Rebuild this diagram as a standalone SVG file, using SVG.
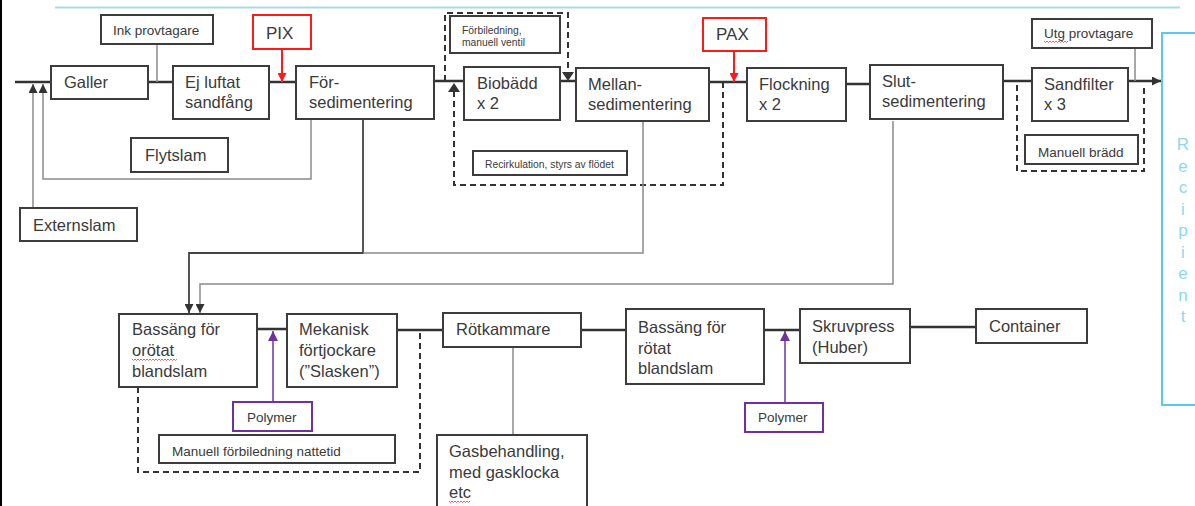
<svg xmlns="http://www.w3.org/2000/svg" width="1195" height="506" viewBox="0 0 1195 506">
<style>
.box{fill:#fff;stroke:#3c3c3c;stroke-width:2}
.red{fill:#fff;stroke:#ff1a1a;stroke-width:2}
.pur{fill:#fff;stroke:#7030a0;stroke-width:2}
.t{font-family:"Liberation Sans",Arial,sans-serif;font-size:16.5px;fill:#3a3a3a}
.s{font-family:"Liberation Sans",Arial,sans-serif;font-size:13.5px;fill:#3a3a3a}
.xs{font-family:"Liberation Sans",Arial,sans-serif;font-size:10.3px;fill:#3a3a3a}
.main{fill:none;stroke:#333;stroke-width:2.6}
.thin{fill:none;stroke:#8a8a8a;stroke-width:1.5}
.dark{fill:none;stroke:#444;stroke-width:1.8}
.dash{fill:none;stroke:#333;stroke-width:2;stroke-dasharray:6 4}
.rl{fill:none;stroke:#ff1a1a;stroke-width:2}
.pl{fill:none;stroke:#7030a0;stroke-width:1.5}
.rec{font-family:"Liberation Sans",Arial,sans-serif;font-size:17px;fill:#8cd8f2;text-anchor:middle}
.sq{fill:none;stroke:#e04040;stroke-width:0.8}
</style>
<defs>
<marker id="ab" viewBox="0 0 10 10" refX="10" refY="5" markerUnits="userSpaceOnUse" markerWidth="11" markerHeight="9" orient="auto"><path d="M0,0 L10,5 L0,10 z" fill="#333" stroke="none"/></marker>
<marker id="ar" viewBox="0 0 10 10" refX="10" refY="5" markerUnits="userSpaceOnUse" markerWidth="10" markerHeight="9" orient="auto"><path d="M0,0 L10,5 L0,10 z" fill="#ff1a1a" stroke="none"/></marker>
<marker id="ap" viewBox="0 0 10 10" refX="10" refY="5" markerUnits="userSpaceOnUse" markerWidth="11" markerHeight="10" orient="auto"><path d="M0,0 L10,5 L0,10 z" fill="#7030a0" stroke="none"/></marker>
</defs>
<rect x="0" y="0" width="1195" height="506" fill="#fff"/>
<rect x="0" y="0" width="2" height="506" fill="#000"/>
<line x1="55" y1="7.5" x2="1180" y2="7.5" stroke="#a8dbe8" stroke-width="2"/>

<g id="connectors">
<path class="main" d="M15,82 H51 M148,82 H173 M269,82 H296 M434,81 H464 M560,81 H576 M709,82 H747 M846,84 H870 M1003,81 H1032"/>
<path class="main" d="M1128,81 H1161" marker-end="url(#ab)"/>
<path class="thin" d="M157,44 V82 M1135,48 V81"/>
<path class="thin" d="M33,208 V84" marker-end="url(#ab)"/>
<path class="thin" d="M311,119 V179 H43 V84" marker-end="url(#ab)"/>
<path class="rl" d="M282,49 V82" marker-end="url(#ar)"/>
<path class="rl" d="M734,51 V82" marker-end="url(#ar)"/>
<path class="dash" d="M445,81 V13 H568 V73"/>
<path fill="#333" d="M562,72 L574,72 L568,81 z"/>
<path class="dash" d="M454,91 V185 H723 V82"/>
<path fill="#333" d="M448,92 L460,92 L454,83 z"/>
<path class="dash" d="M1017,85 V171 H1144 V85"/>
<path class="dark" d="M363,119 V253 H189 V313" marker-end="url(#ab)"/>
<path class="thin" d="M643,121 V253 H363"/>
<path class="thin" d="M893,121 V284 H200 V313" marker-end="url(#ab)"/>
<path class="main" d="M257,329 H287 M397,330 H443 M581,330 H626 M764,330 H800 M910,327 H976"/>
<path class="pl" d="M273,402 V331" marker-end="url(#ap)"/>
<path class="pl" d="M785,403 V331" marker-end="url(#ap)"/>
<path class="dash" d="M138,387 V472 H420 V330"/>
<path class="thin" d="M513,347 V435"/>
</g>

<g id="recipient">
<rect x="1162" y="33" width="45" height="372" fill="none" stroke="#5bc8ec" stroke-width="2"/>
<text class="rec" x="1183" y="150">R</text>
<text class="rec" x="1183" y="171.5">e</text>
<text class="rec" x="1183" y="193">c</text>
<text class="rec" x="1183" y="214.5">i</text>
<text class="rec" x="1183" y="236">p</text>
<text class="rec" x="1183" y="257.5">i</text>
<text class="rec" x="1183" y="279">e</text>
<text class="rec" x="1183" y="300.5">n</text>
<text class="rec" x="1183" y="322">t</text>
</g>

<g id="ink"><rect class="box" x="101" y="15" width="112" height="29"/><text class="s" x="113" y="35">Ink provtagare</text></g>
<g id="galler"><rect class="box" x="51" y="66" width="97" height="33"/><text class="t" x="64" y="88">Galler</text></g>
<g id="sandfang"><rect class="box" x="173" y="66" width="96" height="53"/><text class="t" x="185" y="88">Ej luftat</text><text class="t" x="185" y="108">sandfång</text></g>
<g id="pix"><rect class="red" x="253" y="15" width="58" height="34"/><text class="t" x="266" y="39" style="font-size:17px">PIX</text></g>
<g id="forsed"><rect class="box" x="296" y="66" width="138" height="53"/><text class="t" x="309" y="88">För-</text><text class="t" x="309" y="108">sedimentering</text></g>
<g id="flytslam"><rect class="box" x="131" y="138" width="97" height="34"/><text class="t" x="145" y="161">Flytslam</text></g>
<g id="externslam"><rect class="box" x="20" y="208" width="117" height="33"/><text class="t" x="33" y="231">Externslam</text></g>
<g id="forbiledning"><rect class="box" x="450" y="16" width="110" height="37"/><text class="xs" x="462" y="34">Förbiledning,</text><text class="xs" x="462" y="46">manuell ventil</text></g>
<g id="biobadd"><rect class="box" x="464" y="67" width="96" height="53"/><text class="t" x="477" y="89">Biobädd</text><text class="t" x="477" y="109">x 2</text></g>
<g id="mellansed"><rect class="box" x="576" y="68" width="133" height="53"/><text class="t" x="588" y="90">Mellan-</text><text class="t" x="588" y="110">sedimentering</text></g>
<g id="recirk"><rect class="box" x="473" y="151" width="154" height="24"/><text class="xs" x="485" y="168">Recirkulation, styrs av flödet</text></g>
<g id="pax"><rect class="red" x="703" y="18" width="63" height="33"/><text class="t" x="716" y="40" style="font-size:17px">PAX</text></g>
<g id="flockning"><rect class="box" x="747" y="68" width="99" height="53"/><text class="t" x="759" y="90">Flockning</text><text class="t" x="759" y="110">x 2</text></g>
<g id="slutsed"><rect class="box" x="870" y="65" width="133" height="54"/><text class="t" x="882" y="87">Slut-</text><text class="t" x="882" y="107">sedimentering</text></g>
<g id="utg"><rect class="box" x="1032" y="19" width="120" height="29"/><text class="s" x="1044" y="38">Utg provtagare</text><path class="sq" d="M1044,41 l1.5,1.5 l1.5,-1.5 l1.5,1.5 l1.5,-1.5 l1.5,1.5 l1.5,-1.5 l1.5,1.5 l1.5,-1.5 l1.5,1.5 l1.5,-1.5 l1.5,1.5 l1.5,-1.5 l1.5,1.5 l1.5,-1.5 l1.5,1.5 l1.5,-1.5"/></g>
<g id="sandfilter"><rect class="box" x="1032" y="68" width="96" height="53"/><text class="t" x="1044" y="90">Sandfilter</text><text class="t" x="1044" y="110">x 3</text></g>
<g id="bradd"><rect class="box" x="1025" y="135" width="113" height="29"/><text class="s" x="1038" y="157">Manuell brädd</text></g>

<g id="bassang1"><rect class="box" x="119" y="314" width="138" height="73"/><text class="t" x="132" y="335">Bassäng för</text><text class="t" x="132" y="356">orötat</text><path class="sq" d="M132,359 l1.5,1.5 l1.5,-1.5 l1.5,1.5 l1.5,-1.5 l1.5,1.5 l1.5,-1.5 l1.5,1.5 l1.5,-1.5 l1.5,1.5 l1.5,-1.5 l1.5,1.5 l1.5,-1.5 l1.5,1.5 l1.5,-1.5 l1.5,1.5 l1.5,-1.5 l1.5,1.5 l1.5,-1.5 l1.5,1.5 l1.5,-1.5 l1.5,1.5 l1.5,-1.5 l1.5,1.5 l1.5,-1.5 l1.5,1.5 l1.5,-1.5 l1.5,1.5 l1.5,-1.5 l1.5,1.5 l1.5,-1.5"/><text class="t" x="132" y="377">blandslam</text></g>
<g id="mekanisk"><rect class="box" x="287" y="314" width="110" height="73"/><text class="t" x="299" y="335">Mekanisk</text><text class="t" x="299" y="356">förtjockare</text><text class="t" x="299" y="377">(”Slasken”)</text></g>
<g id="polymer1"><rect class="pur" x="233" y="402" width="79" height="29"/><text class="s" x="247" y="422">Polymer</text></g>
<g id="manforb"><rect class="box" x="159" y="435" width="236" height="28"/><text class="s" x="172" y="456">Manuell förbiledning nattetid</text></g>
<g id="rotkammare"><rect class="box" x="443" y="313" width="138" height="34"/><text class="t" x="456" y="335">Rötkammare</text></g>
<g id="gas"><rect class="box" x="437" y="435" width="150" height="85"/><text class="t" x="449" y="457">Gasbehandling,</text><text class="t" x="449" y="478">med gasklocka</text><text class="t" x="449" y="498">etc</text><path class="sq" d="M449,501 l1.5,1.5 l1.5,-1.5 l1.5,1.5 l1.5,-1.5 l1.5,1.5 l1.5,-1.5 l1.5,1.5 l1.5,-1.5 l1.5,1.5 l1.5,-1.5 l1.5,1.5 l1.5,-1.5 l1.5,1.5 l1.5,-1.5"/></g>
<g id="bassang2"><rect class="box" x="626" y="309" width="138" height="75"/><text class="t" x="638" y="333">Bassäng för</text><text class="t" x="638" y="354">rötat</text><text class="t" x="638" y="374">blandslam</text></g>
<g id="polymer2"><rect class="pur" x="745" y="403" width="78" height="29"/><text class="s" x="758" y="422">Polymer</text></g>
<g id="skruvpress"><rect class="box" x="800" y="309" width="110" height="54"/><text class="t" x="812" y="332">Skruvpress</text><text class="t" x="812" y="353">(Huber)</text></g>
<g id="container"><rect class="box" x="976" y="309" width="111" height="34"/><text class="t" x="989" y="332">Container</text></g>
</svg>
